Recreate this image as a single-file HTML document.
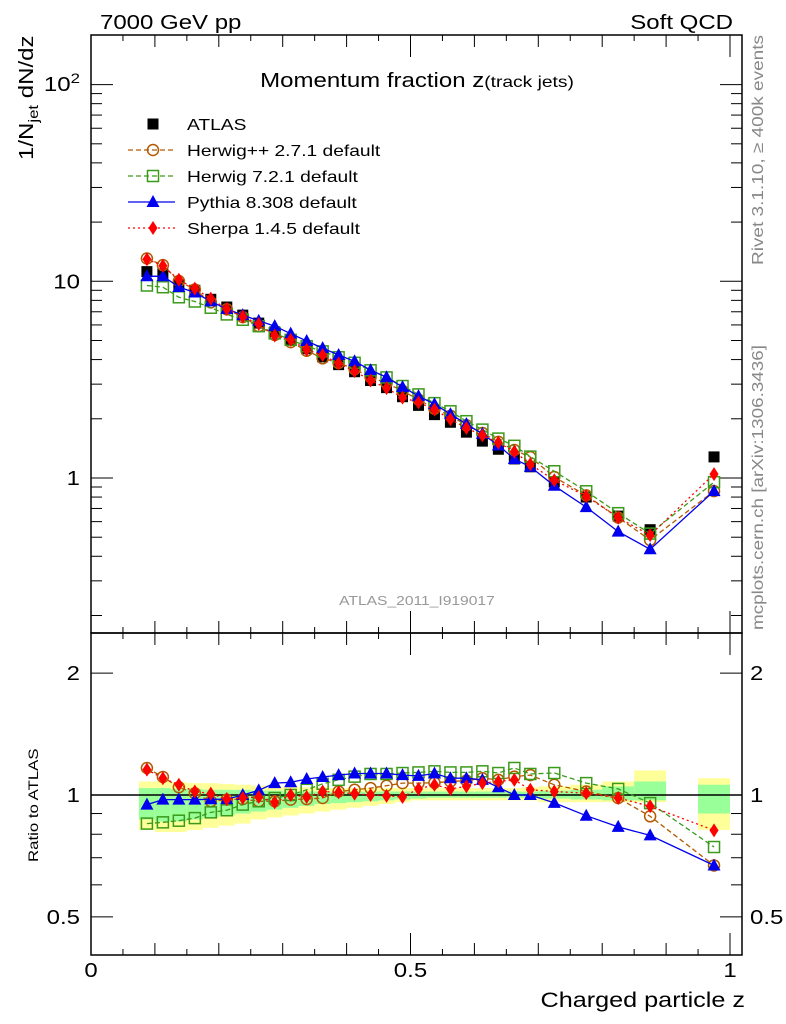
<!DOCTYPE html>
<html><head><meta charset="utf-8"><style>
html,body{margin:0;padding:0;background:#fff}
svg{display:block;font-family:"Liberation Sans",sans-serif}
</style></head><body>
<svg id="c" width="786" height="1024" viewBox="0 0 786 1024" xmlns="http://www.w3.org/2000/svg">
<g id="bands"></g>
<g id="grid"></g>
<g id="series"></g>
<text class="st" x="100" y="29" font-size="20">7000 GeV pp</text>
<text class="st" x="733" y="29" font-size="20" text-anchor="end">Soft QCD</text>
<text class="st" x="417" y="87" font-size="20" text-anchor="middle">Momentum fraction z<tspan font-size="16">(track jets)</tspan></text>
<text class="st" x="417" y="605" font-size="13" fill="#999" text-anchor="middle">ATLAS_2011_I919017</text>
<text class="st" transform="translate(33,160) rotate(-90)" font-size="20">1/N<tspan font-size="14" dy="5">jet</tspan><tspan dy="-5"> dN/dz</tspan></text>
<text class="st" transform="translate(38,862) rotate(-90)" font-size="14">Ratio to ATLAS</text>
<text class="st" x="745" y="1007" font-size="21" text-anchor="end">Charged particle z</text>
<text transform="translate(763,265) rotate(-90)" font-size="16" fill="#888" textLength="230" lengthAdjust="spacingAndGlyphs">Rivet 3.1.10, ≥ 400k events</text>
<text transform="translate(763,630) rotate(-90)" font-size="16" fill="#888" textLength="285" lengthAdjust="spacingAndGlyphs">mcplots.cern.ch [arXiv:1306.3436]</text>
<g id="legend"></g>
</svg>
<script>
const zCenters=[0.0875,0.1125,0.1375,0.1625,0.1875,0.2125,0.2375,0.2625,0.2875,0.3125,0.3375,0.3625,0.3875,0.4125,0.4375,0.4625,0.4875,0.5125,0.5375,0.5625,0.5875,0.6125,0.6375,0.6625,0.6875,0.725,0.775,0.825,0.875,0.975];
const zLo=[0.075,0.1,0.125,0.15,0.175,0.2,0.225,0.25,0.275,0.3,0.325,0.35,0.375,0.4,0.425,0.45,0.475,0.5,0.525,0.55,0.575,0.6,0.625,0.65,0.675,0.7,0.75,0.8,0.85,0.95];
const zHi=[0.1,0.125,0.15,0.175,0.2,0.225,0.25,0.275,0.3,0.325,0.35,0.375,0.4,0.425,0.45,0.475,0.5,0.525,0.55,0.575,0.6,0.625,0.65,0.675,0.7,0.75,0.8,0.85,0.9,1.0];
const atlas=[11.2,10.9,9.6,9.0,8.1,7.4,6.73,6.13,5.53,5.04,4.54,4.13,3.77,3.47,3.13,2.88,2.59,2.34,2.10,1.92,1.71,1.54,1.40,1.25,1.14,0.955,0.80,0.64,0.546,1.28];
const rHerwigPP=[1.166,1.108,1.045,1.01,0.965,0.974,0.977,0.965,0.965,0.974,0.977,0.983,1.02,1.03,1.04,1.054,1.07,1.07,1.072,1.08,1.085,1.10,1.09,1.11,1.12,1.06,1.02,0.983,0.886,0.67];
const rHerwig7=[0.85,0.856,0.864,0.877,0.906,0.917,0.947,0.965,0.983,1.0,1.03,1.066,1.09,1.11,1.127,1.127,1.133,1.137,1.144,1.137,1.137,1.144,1.133,1.166,1.127,1.133,1.07,1.035,0.955,0.744];
const rPythia=[0.947,0.974,0.974,0.974,0.976,0.977,1.0,1.027,1.07,1.075,1.095,1.108,1.12,1.13,1.13,1.13,1.12,1.115,1.13,1.10,1.10,1.09,1.045,1.0,1.0,0.956,0.889,0.834,0.795,0.67];
const rSherpa=[1.155,1.10,1.06,1.02,1.008,0.977,0.983,0.989,0.959,1.0,0.989,1.02,1.015,1.007,1.0,0.995,0.989,1.035,1.06,1.035,1.05,1.07,1.08,1.09,1.03,1.02,1.01,0.983,0.938,0.818];
const yellowHi=[1.08,1.08,1.075,1.07,1.07,1.065,1.06,1.055,1.05,1.05,1.045,1.045,1.04,1.04,1.04,1.04,1.04,1.04,1.04,1.04,1.04,1.04,1.04,1.04,1.045,1.05,1.06,1.08,1.15,1.10];
const yellowLo=[0.82,0.81,0.81,0.82,0.83,0.84,0.85,0.87,0.88,0.89,0.90,0.91,0.92,0.93,0.94,0.95,0.96,0.97,0.97,0.97,0.97,0.97,0.97,0.97,0.97,0.96,0.96,0.96,0.96,0.82];
const greenHi=[1.04,1.04,1.035,1.035,1.03,1.03,1.03,1.025,1.025,1.02,1.02,1.02,1.02,1.02,1.02,1.02,1.02,1.02,1.02,1.02,1.02,1.02,1.02,1.02,1.02,1.025,1.03,1.05,1.08,1.06];
const greenLo=[0.87,0.86,0.86,0.87,0.88,0.89,0.90,0.91,0.92,0.93,0.94,0.95,0.955,0.96,0.965,0.97,0.975,0.98,0.985,0.985,0.985,0.985,0.985,0.985,0.985,0.98,0.975,0.97,0.97,0.90];

const NS='http://www.w3.org/2000/svg';
const L=91,R=742,T=35,MB=633,RB=955;
const X=z=>91+639*z;
const Y=v=>478-196.7*Math.log10(v);
const YR=r=>795-405*Math.log10(r);
function mk(tag,attrs,parent){const e=document.createElementNS(NS,tag);for(const k in attrs)e.setAttribute(k,attrs[k]);parent.appendChild(e);return e;}
const bands=document.getElementById('bands'),grid=document.getElementById('grid'),series=document.getElementById('series'),legend=document.getElementById('legend');

zCenters.forEach((z,i)=>{
  const y=mk('rect',{x:X(zLo[i]),y:YR(yellowHi[i]),width:X(zHi[i])-X(zLo[i]),height:YR(yellowLo[i])-YR(yellowHi[i]),fill:'#ffff99'},bands);
  
  
  const g=mk('rect',{x:X(zLo[i]),y:YR(greenHi[i]),width:X(zHi[i])-X(zLo[i]),height:YR(greenLo[i])-YR(greenHi[i]),fill:'#99ff99'},bands);
  
  
});

const f1=mk('rect',{x:L,y:T,width:R-L,height:MB-T,fill:'none',stroke:'#000','stroke-width':1.5},grid);


const f2=mk('rect',{x:L,y:MB,width:R-L,height:RB-MB,fill:'none',stroke:'#000','stroke-width':1.5},grid);


const one=mk('line',{x1:L,x2:R,y1:YR(1),y2:YR(1),stroke:'#000','stroke-width':1.5},grid);



function tick(x1,y1,x2,y2){const t=mk('line',{x1,y1,x2,y2,stroke:'#000','stroke-width':1},grid);}
function label(x,y,txt,anchor,size,name){const t=mk('text',{x,y,'text-anchor':anchor,'font-size':size,'class':'st'},grid);t.textContent=txt;return t;}
for(let k=0;k<=20;k++){const z=k*0.05,x=X(z),len=(k%10==0)?22:(k%2==0?12:6);
  tick(x,RB,x,RB-len);tick(x,MB,x,MB-len);tick(x,MB,x,MB+len);tick(x,T,x,T+len);}
label(X(0),977,'0','middle',20,'x-tick-label');
label(X(0.5),977,'0.5','middle',20,'x-tick-label');
label(X(1),977,'1','middle',20,'x-tick-label');
for(let d=-1;d<=2;d++){for(let m=1;m<=9;m++){const v=m*Math.pow(10,d),y=Y(v);if(y<T||y>MB)continue;
  const len=m==1?22:11;tick(L,y,L+len,y);tick(R,y,R-len,y);}}
const lt=label(80,91,'10','end',20,'y-tick-label');const sup=document.createElementNS(NS,'tspan');sup.setAttribute('font-size','14');sup.setAttribute('dy','-8');sup.textContent='2';lt.appendChild(sup);
label(80,Y(10)+7,'10','end',20,'y-tick-label');
label(80,Y(1)+7,'1','end',20,'y-tick-label');
[0.4,0.5,0.6,0.7,0.8,0.9,1,2].forEach(r=>{const y=YR(r);if(y<MB||y>RB)return;const len=(r==0.5||r==1||r==2)?22:11;tick(L,y,L+len,y);tick(R,y,R-len,y);});
[[2,'2'],[1,'1'],[0.5,'0.5']].forEach(([r,s])=>{label(80,YR(r)+7,s,'end',20,'ratio-tick-label');label(750,YR(r)+7,s,'start',20,'ratio-tick-label');});

function marker(g,type,x,y,color){let e;
  if(type=='sq')e=mk('rect',{x:x-5.5,y:y-5.5,width:11,height:11,fill:'#000'},g);
  else if(type=='circ')e=mk('circle',{cx:x,cy:y,r:5.5,fill:'none',stroke:color,'stroke-width':1.5},g);
  else if(type=='osq')e=mk('rect',{x:x-5.5,y:y-5.5,width:11,height:11,fill:'none',stroke:color,'stroke-width':1.5},g);
  else if(type=='tri')e=mk('polygon',{points:`${x},${y-7} ${x-6.5},${y+5} ${x+6.5},${y+5}`,fill:color},g);
  else e=mk('polygon',{points:`${x},${y-7} ${x-4.5},${y} ${x},${y+7} ${x+4.5},${y}`,fill:color},g);
  return e;}
const defs=[
 {name:'herwigpp',r:rHerwigPP,color:'#b35900',dash:'5,3',type:'circ',label:'Herwig++ 2.7.1 default'},
 {name:'herwig7',r:rHerwig7,color:'#3a9a1a',dash:'5,3',type:'osq',label:'Herwig 7.2.1 default'},
 {name:'pythia',r:rPythia,color:'#0000ee',dash:'',type:'tri',label:'Pythia 8.308 default'},
 {name:'sherpa',r:rSherpa,color:'#ff0000',dash:'2,3',type:'dia',label:'Sherpa 1.4.5 default'}];
defs.forEach(s=>{
  const g=mk('g',{},series);
  
  
  const pm=zCenters.map((z,i)=>X(z).toFixed(1)+','+Y(atlas[i]*s.r[i]).toFixed(1)).join(' ');
  const pr=zCenters.map((z,i)=>X(z).toFixed(1)+','+YR(s.r[i]).toFixed(1)).join(' ');
  const l1=mk('polyline',{points:pm,fill:'none',stroke:s.color,'stroke-width':1.3,'stroke-dasharray':s.dash},g);
  
  
  const l2=mk('polyline',{points:pr,fill:'none',stroke:s.color,'stroke-width':1.3,'stroke-dasharray':s.dash},g);
  
  
  zCenters.forEach((z,i)=>{
    const m=marker(g,s.type,X(z),Y(atlas[i]*s.r[i]),s.color);
    
    
    const m2=marker(g,s.type,X(z),YR(s.r[i]),s.color);
    
    
  });
});
const ga=mk('g',{},series);


zCenters.forEach((z,i)=>{const m=marker(ga,'sq',X(z),Y(atlas[i]),'#000');
  
  });
series.insertBefore(ga,series.firstChild);

const rows=[{type:'sq',color:'#000',dash:null,label:'ATLAS'}].concat(defs);
rows.forEach((s,i)=>{const y=124+i*26;
  const g=mk('g',{},legend);
  
  
  if(s.dash!==null&&s.dash!==undefined){mk('line',{x1:128,x2:175,y1:y,y2:y,stroke:s.color,'stroke-width':1.3,'stroke-dasharray':s.dash},g);}
  marker(g,s.type,153,y,s.color);
  const t=mk('text',{x:187,y:y+6,'font-size':16,'class':'st'},g);t.textContent=s.label;});

// widen text to match reference (Helvetica-like) metrics
document.querySelectorAll('text.st').forEach(t=>{
  const w=t.getComputedTextLength();
  if(w>0){t.setAttribute('textLength',(w*1.2).toFixed(1));t.setAttribute('lengthAdjust','spacingAndGlyphs');}
});
</script>
</body></html>
